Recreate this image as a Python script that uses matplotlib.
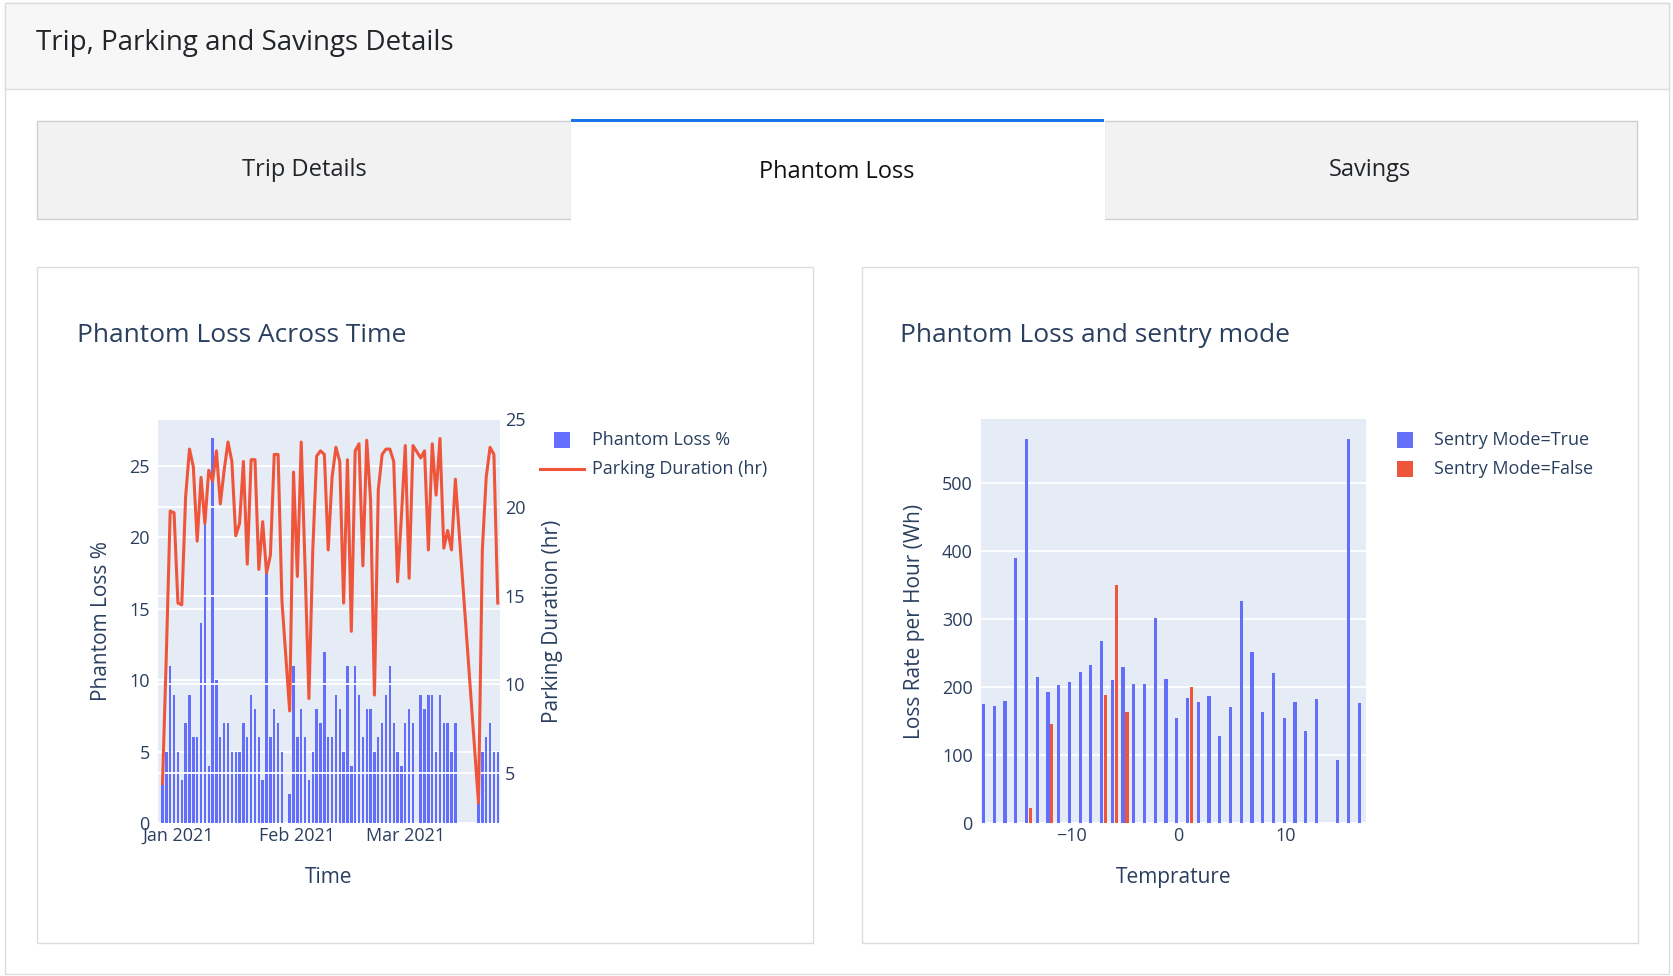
import numpy as np
import pandas as pd
import matplotlib
matplotlib.use("Agg")
import matplotlib.pyplot as plt
from matplotlib.patches import Rectangle

plt.rcParams['font.family'] = ['Open Sans', 'DejaVu Sans']

# ---- data: left chart (daily, starting 2020-12-28, None = no record)
start_day = "2020-12-28"
phantom_loss = [3, 5, 11, 9, 5, 3, 7, 9, 6, 6, 14, 21, 4, 27, 10, 6, 7, 7, 5, 5,
                5, 7, 6, 9, 8, 6, 3, 18, 6, 8, 7, 5, None, 2, 11, 6, 8, 6, 3, 5,
                8, 7, 12, 6, 6, 9, 8, 5, 11, 4, 11, 9, 6, 8, 8, 5, 6, 7, 9, 11,
                7, 5, 4, 7, 8, 7, None, 9, 8, 9, 9, 5, 9, 7, 7, 5, 7, None, None,
                None, None, None, 1.5, 5, 6, 7, 5, 5]
parking_hr = [4.4, 11.7, 19.8, 19.7, 14.6, 14.5, 20.6, 23.3, 22.3, 18.1, 21.7, 19.1,
              22.1, 21.5, 23.2, 20.2, 22.1, 23.7, 22.6, 18.4, 19.1, 22.6, 16.8, 22.7,
              22.7, 16.5, 19.2, 16.3, 17.3, 23.0, 23.0, 14.7, None, 8.5, 22.0, 16.1,
              23.7, 16.6, 9.2, 17.6, 22.9, 23.2, 23.0, 17.6, 21.7, 23.4, 22.6, 14.6,
              22.7, 13.0, 23.2, 23.6, 16.7, 23.8, 20.4, 9.4, 21.0, 23.0, 23.3, 23.3,
              22.6, 15.8, 19.5, 23.5, 16.0, 23.5, None, 22.8, 23.2, 17.6, 23.6, 20.7,
              23.9, 17.7, 18.7, 17.6, 21.6, None, None, None, None, None, 3.3, 17.6,
              21.7, 23.4, 23.0, 14.6]

# ---- data: right chart
temp_true = [-18, -17, -16, -15, -14, -13, -12, -11, -10, -9, -8, -7, -6, -5, -4, -3,
             -2, -1, 0, 1, 2, 3, 4, 5, 6, 7, 8, 9, 10, 11, 12, 13, 15, 16, 17]
loss_true = [175, 172, 180, 390, 565, 215, 193, 203, 207, 222, 233, 268, 210, 229, 205,
             204, 302, 211, 155, 184, 178, 187, 128, 170, 327, 252, 163, 220, 155, 178,
             135, 182, 93, 565, 177]
temp_false = [-14, -12, -7, -6, -5, 1]
loss_false = [22, 145, 188, 350, 163, 200]

BLUE, RED = "#636EFA", "#EF553B"
TXT = "#2a3f5f"
BG = "#E5ECF6"
W, H = 1674, 976

fig = plt.figure(figsize=(W / 100, H / 100), dpi=100)
fig.patch.set_facecolor("white")


def box(x0, y0, x1, y1, fc, ec, lw=1.0, z=0):
    # pixel coords, y from top
    fig.patches.append(Rectangle((x0 / W, 1 - y1 / H), (x1 - x0) / W, (y1 - y0) / H,
                                 transform=fig.transFigure, fc=fc, ec=ec, lw=lw, zorder=z))


def ftext(x, y, s, **kw):
    fig.text(x / W, 1 - y / H, s, zorder=10, **kw)


# page chrome
box(5, 3, 1669, 974, "white", "#dcdcdc")
box(5, 3, 1669, 89, "#f7f7f7", "#dcdcdc")
ftext(36, 43, "Trip, Parking and Savings Details", fontsize=20, color="#212529", va="center")
box(37, 121, 571, 219, "#f2f2f2", "#cfcfcf")
box(1104, 121, 1637, 219, "#f2f2f2", "#cfcfcf")
box(571, 121, 1104, 219, "white", "white")
box(571, 119, 1104, 122, "#1a73e8", "none", z=2)
ftext(304, 170, "Trip Details", fontsize=17, color="#212529", ha="center", va="center")
ftext(837, 172, "Phantom Loss", fontsize=17, color="#111111", ha="center", va="center")
ftext(1370, 170, "Savings", fontsize=17, color="#212529", ha="center", va="center")
box(37, 267, 813, 943, "white", "#dcdcdc")
box(862, 267, 1638, 943, "white", "#dcdcdc")
ftext(77, 335, "Phantom Loss Across Time", fontsize=19, color=TXT, va="center")
ftext(900, 335, "Phantom Loss and sentry mode", fontsize=19, color=TXT, va="center")


def style(ax):
    ax.set_zorder(5)
    ax.set_facecolor(BG)
    for s in ax.spines.values():
        s.set_visible(False)
    ax.tick_params(length=0, labelsize=13, colors=TXT)
    ax.grid(True, axis="y", color="white", lw=1.3)
    ax.set_axisbelow(True)


# ---- left chart
days = pd.date_range(start_day, periods=len(phantom_loss), freq="D")
pl = np.array([np.nan if v is None else v for v in phantom_loss], dtype=float)
ph = np.array([np.nan if v is None else v for v in parking_hr], dtype=float)

ax1 = fig.add_axes([158 / W, 1 - 823 / H, 342 / W, 404 / H])
style(ax1)
ax1.bar(days, pl, width=0.62, color=BLUE, zorder=2)
ax1.set_ylim(0, 28.3)
ax1.set_yticks([0, 5, 10, 15, 20, 25])
ax1.set_xlim(pd.Timestamp("2020-12-26 20:00"), pd.Timestamp("2021-03-25 14:00"))
ax1.set_xticks(pd.to_datetime(["2021-01-01", "2021-02-01", "2021-03-01"]))
ax1.set_xticklabels(["Jan 2021", "Feb 2021", "Mar 2021"])
ax1.tick_params(axis="x", pad=3)
ax1.tick_params(axis="y", pad=6)
ax1.set_xlabel("Time", fontsize=15, color=TXT, labelpad=16)
ax1.set_ylabel("Phantom Loss %", fontsize=15, color=TXT, labelpad=12)

ax2 = ax1.twinx()
for s in ax2.spines.values():
    s.set_visible(False)
ax2.tick_params(length=0, labelsize=13, colors=TXT)
ax2.grid(True, axis="y", color="white", lw=1.3)
ax2.set_zorder(6)
ax2.patch.set_visible(False)
ok = ~np.isnan(ph)
ax2.plot(days[ok], ph[ok], color=RED, lw=2.2, zorder=3)
ax2.set_ylim(2.17, 25)
ax2.set_yticks([5, 10, 15, 20, 25])
ax2.set_ylabel("Parking Duration (hr)", fontsize=15, color=TXT, labelpad=12)

# left legend
box(554, 432, 570, 448, BLUE, "none", z=3)
fig.add_artist(plt.Line2D([540 / W, 584 / W], [1 - 469 / H] * 2, color=RED, lw=2.2, zorder=10))
ftext(592, 440, "Phantom Loss %", fontsize=13, color=TXT, va="center")
ftext(592, 469, "Parking Duration (hr)", fontsize=13, color=TXT, va="center")

# ---- right chart
ax3 = fig.add_axes([981 / W, 1 - 823 / H, 385 / W, 404 / H])
style(ax3)
ax3.bar(np.array(temp_true) - 0.17, loss_true, width=0.3, color=BLUE, zorder=2)
ax3.bar(np.array(temp_false) + 0.2, loss_false, width=0.3, color=RED, zorder=2)
ax3.set_xlim(-18.4, 17.45)
ax3.set_ylim(0, 594)
ax3.set_yticks([0, 100, 200, 300, 400, 500])
ax3.set_xticks([-10, 0, 10])
ax3.set_xticklabels(["\u221210", "0", "10"])
ax3.tick_params(axis="x", pad=3)
ax3.tick_params(axis="y", pad=6)
ax3.set_xlabel("Temprature", fontsize=15, color=TXT, labelpad=16)
ax3.set_ylabel("Loss Rate per Hour (Wh)", fontsize=15, color=TXT, labelpad=12)

box(1397, 432, 1413, 448, BLUE, "none", z=3)
box(1397, 461, 1413, 477, RED, "none", z=3)
ftext(1434, 440, "Sentry Mode=True", fontsize=13, color=TXT, va="center")
ftext(1434, 469, "Sentry Mode=False", fontsize=13, color=TXT, va="center")

fig.savefig("out.png", dpi=100)
